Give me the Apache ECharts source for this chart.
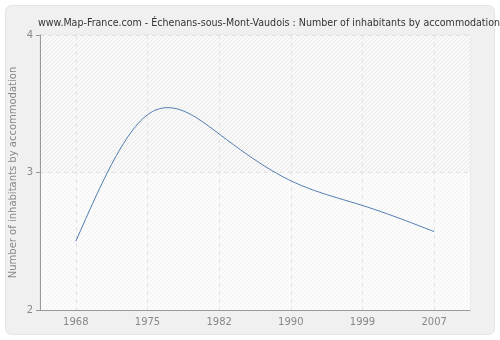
<!DOCTYPE html>
<html>
<head>
<meta charset="utf-8">
<script src="https://cdn.jsdelivr.net/npm/echarts@6/dist/echarts.min.js"></script>
<style>
html,body{margin:0;padding:0;background:#fff;}
#chart{width:500px;height:340px;}
</style>
</head>
<body>
<div id="chart"></div>
<script>
// Census years and average household size
var years = ['1968', '1975', '1982', '1990', '1999', '2007'];
var inhabitantsPerHome = [2.5, 3.42, 3.28, 2.94, 2.76, 2.57];
var yTicks = { min: 2, max: 4, step: 1 };
var titleText = 'www.Map-France.com - Échenans-sous-Mont-Vaudois : Number of inhabitants by accommodation';

// Diagonal hatch tile used as plot background
function hatch(lineColor, bg) {
  var c = document.createElement('canvas');
  c.width = 4; c.height = 4;
  var g = c.getContext('2d');
  g.fillStyle = bg;
  g.fillRect(0, 0, 4, 4);
  g.fillStyle = lineColor;
  for (var i = 0; i < 4; i++) g.fillRect(i, 3 - i, 1, 1);
  return { image: c, repeat: 'repeat' };
}

// Font size that makes the title span a given width
function fitFont(text, family, width) {
  var g = document.createElement('canvas').getContext('2d');
  g.font = '20px "' + family + '"';
  return 20 * width / g.measureText(text).width;
}

// Natural cubic spline through pixel points (x strictly increasing)
function naturalSpline(pts, steps) {
  var n = pts.length, i;
  var h = [], a = [], l = [1], mu = [0], z = [0], c = new Array(n).fill(0), b = [], d = [];
  for (i = 0; i < n - 1; i++) h[i] = pts[i + 1][0] - pts[i][0];
  for (i = 1; i < n - 1; i++) {
    a[i] = 3 / h[i] * (pts[i + 1][1] - pts[i][1]) - 3 / h[i - 1] * (pts[i][1] - pts[i - 1][1]);
  }
  for (i = 1; i < n - 1; i++) {
    l[i] = 2 * (pts[i + 1][0] - pts[i - 1][0]) - h[i - 1] * mu[i - 1];
    mu[i] = h[i] / l[i];
    z[i] = (a[i] - h[i - 1] * z[i - 1]) / l[i];
  }
  for (i = n - 2; i >= 0; i--) {
    c[i] = z[i] - mu[i] * c[i + 1];
    b[i] = (pts[i + 1][1] - pts[i][1]) / h[i] - h[i] * (c[i + 1] + 2 * c[i]) / 3;
    d[i] = (c[i + 1] - c[i]) / (3 * h[i]);
  }
  var out = [];
  for (i = 0; i < n - 1; i++) {
    for (var s = 0; s < steps; s++) {
      var t = h[i] * s / steps;
      out.push([pts[i][0] + t, pts[i][1] + b[i] * t + c[i] * t * t + d[i] * t * t * t]);
    }
  }
  out.push(pts[n - 1].slice());
  return out;
}

var titleFamily = 'DejaVu Sans Condensed';
var chart = echarts.init(document.getElementById('chart'));
chart.setOption({
  animation: false,
  backgroundColor: '#ffffff',
  graphic: [{
    type: 'rect',
    z: -10,
    shape: { x: 5.5, y: 5.5, width: 489, height: 329, r: 6 },
    style: { fill: '#f0f0f0', stroke: '#e4e4e4', lineWidth: 1 }
  }],
  title: {
    text: titleText,
    left: 33, top: 13,
    textStyle: { fontFamily: titleFamily, fontSize: fitFont(titleText, titleFamily, 463), fontWeight: 'normal', color: '#333' }
  },
  grid: { left: 40, right: 30, top: 35, bottom: 30, outerBoundsMode: 'none', show: true, backgroundColor: '#fafafa', borderWidth: 1, borderColor: '#e3e3e3' },
  xAxis: {
    type: 'category',
    data: years,
    boundaryGap: true,
    axisLine: { lineStyle: { color: '#999', width: 1 } },
    axisTick: { alignWithLabel: true, length: 4, lineStyle: { color: '#999' } },
    axisLabel: { color: '#888', fontFamily: 'DejaVu Sans', fontSize: 10, margin: 7 },
    splitLine: { show: true, alignWithLabel: true, lineStyle: { color: '#e2e2e2', type: [4, 4] } }
  },
  yAxis: {
    type: 'value',
    min: yTicks.min, max: yTicks.max, interval: yTicks.step,
    name: 'Number of inhabitants by accommodation',
    nameLocation: 'middle', nameGap: 22, nameMoveOverlap: false,
    nameTextStyle: { color: '#888', fontFamily: 'DejaVu Sans', fontSize: 10 },
    axisLine: { show: true, lineStyle: { color: '#999', width: 1 } },
    axisTick: { show: true, length: 4, lineStyle: { color: '#999' } },
    axisLabel: { color: '#888', fontFamily: 'DejaVu Sans', fontSize: 10, margin: 7 },
    splitLine: { show: true, lineStyle: { color: '#e2e2e2', type: [4, 4] } },
    splitArea: { show: true, areaStyle: { color: [hatch('#f2f2f2', '#fcfcfc'), hatch('#e9e9e9', '#f9f9f9')] } }
  },
  series: [{
    type: 'custom',
    data: inhabitantsPerHome.map(function (v, i) { return [i, v]; }),
    encode: { x: 0, y: 1 },
    clip: true,
    renderItem: function (params, api) {
      if (params.dataIndex !== 0) return null;
      var pts = inhabitantsPerHome.map(function (v, i) { return api.coord([i, v]); });
      return {
        type: 'polyline',
        shape: { points: naturalSpline(pts, 30) },
        style: { fill: null, stroke: '#4f7bb0', lineWidth: 1 }
      };
    }
  }]
});
</script>
</body>
</html>
